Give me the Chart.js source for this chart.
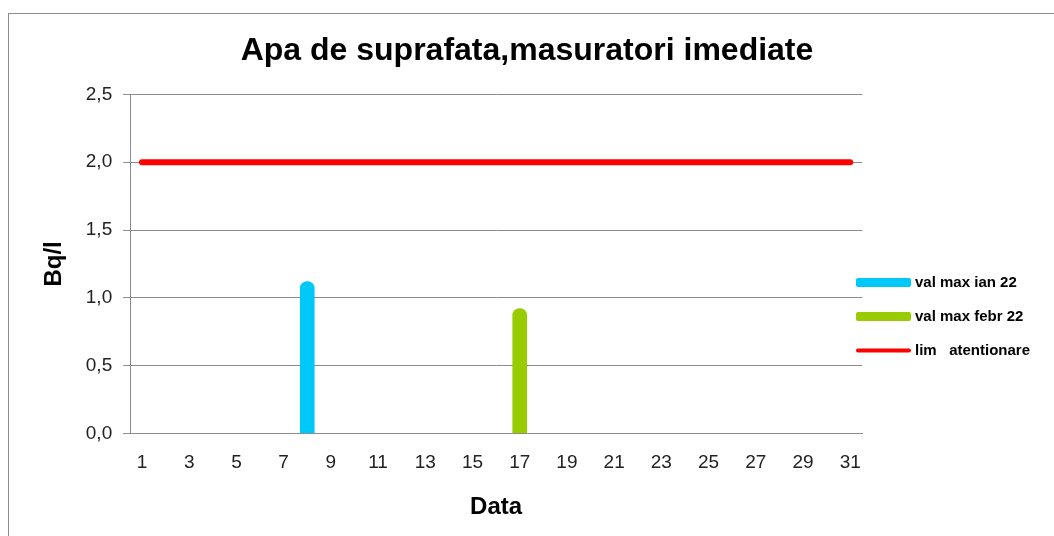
<!DOCTYPE html>
<html lang="ro">
<head>
    <meta charset="UTF-8">
    <title>Apa de suprafata</title>
    <script src="https://cdn.jsdelivr.net/npm/chart.js"></script>
    <style>
        body {
            margin: 0;
            padding: 0;
            background: #ffffff;
            overflow: hidden;
        }
        .frame {
            position: absolute;
            left: 8px;
            top: 13px;
            width: 1200px;
            height: 700px;
            border: 1px solid #8c8c8c;
        }
        #chart {
            position: absolute;
            left: 0;
            top: 0;
        }
    </style>
</head>
<body>
    <div class="frame"></div>
    <canvas id="chart" width="1054" height="536"></canvas>

    <script>
        // days of the month
        const days = ['1','2','3','4','5','6','7','8','9','10','11','12','13','14','15','16',
                      '17','18','19','20','21','22','23','24','25','26','27','28','29','30','31'];

        // measured values (only one day per month has a value)
        const valIan = [null,null,null,null,null,null,null,1.12,null,null,null,null,null,null,null,null,
                        null,null,null,null,null,null,null,null,null,null,null,null,null,null,null];
        const valFebr = [null,null,null,null,null,null,null,null,null,null,null,null,null,null,null,null,
                         0.92,null,null,null,null,null,null,null,null,null,null,null,null,null,null];
        const limAtentionare = [2,2,2,2,2,2,2,2,2,2,2,2,2,2,2,2,2,2,2,2,2,2,2,2,2,2,2,2,2,2,2];

        const seriesNames = ['val max ian 22', 'val max febr 22', 'lim   atentionare'];
        const yTicks = [0, 0.5, 1, 1.5, 2, 2.5];

        const FONT = '"Liberation Sans", Arial, sans-serif';

        // legend on the right, drawn on the canvas (Excel style: marker slightly overlapping plot edge)
        const sideLegend = {
            id: 'sideLegend',
            afterDraw(chart) {
                const c = chart.ctx;
                const x0 = chart.chartArea.right - 6;
                const markerH = [9, 9, 4];
                c.save();
                c.font = 'bold 15px ' + FONT;
                c.textBaseline = 'middle';
                chart.data.datasets.forEach((ds, i) => {
                    const y = chart.chartArea.top + 188 + i * 34;
                    const h = markerH[i];
                    c.fillStyle = ds.borderColor;
                    c.beginPath();
                    c.roundRect(x0, y - h / 2, 55, h, 2);
                    c.fill();
                    c.fillStyle = '#000000';
                    c.fillText(ds.label, x0 + 59, y);
                });
                c.restore();
            }
        };

        const ctx = document.getElementById('chart').getContext('2d');
        new Chart(ctx, {
            data: {
                labels: days,
                datasets: [
                    {
                        type: 'bar',
                        label: seriesNames[0],
                        data: valIan,
                        backgroundColor: '#00c8f8',
                        borderColor: '#00c8f8',
                        barThickness: 14,
                        borderRadius: { topLeft: 7, topRight: 7 },
                        borderSkipped: 'bottom',
                        grouped: false
                    },
                    {
                        type: 'bar',
                        label: seriesNames[1],
                        data: valFebr,
                        backgroundColor: '#99cc00',
                        borderColor: '#99cc00',
                        barThickness: 14,
                        borderRadius: { topLeft: 7, topRight: 7 },
                        borderSkipped: 'bottom',
                        grouped: false
                    },
                    {
                        type: 'line',
                        label: seriesNames[2],
                        data: limAtentionare,
                        borderColor: '#ff0000',
                        backgroundColor: '#ff0000',
                        borderWidth: 6,
                        borderCapStyle: 'round',
                        pointRadius: 0,
                        fill: false
                    }
                ]
            },
            plugins: [sideLegend],
            options: {
                responsive: false,
                animation: false,
                layout: { padding: 0 },
                plugins: {
                    title: {
                        display: true,
                        text: 'Apa de suprafata,masuratori imediate',
                        color: '#000000',
                        font: { family: FONT, size: 32, weight: 'bold' },
                        padding: { top: 32, bottom: 24 }
                    },
                    legend: { display: false },
                    tooltip: { enabled: false }
                },
                scales: {
                    x: {
                        offset: true,
                        grid: { display: true, drawOnChartArea: false, drawTicks: false },
                        border: { display: true, color: '#8c8c8c', width: 1 },
                        ticks: {
                            autoSkip: false,
                            maxRotation: 0,
                            padding: 18,
                            color: '#222222',
                            font: { family: FONT, size: 19 },
                            callback: function (value, index) {
                                return index % 2 === 0 ? days[index] : '';
                            }
                        },
                        title: {
                            display: true,
                            text: 'Data',
                            color: '#000000',
                            font: { family: FONT, size: 24, weight: 'bold' },
                            padding: { top: 1, bottom: 14 }
                        }
                    },
                    y: {
                        min: 0,
                        max: 2.5,
                        afterBuildTicks: (axis) => {
                            axis.ticks = yTicks.map(v => ({ value: v }));
                        },
                        grid: { color: '#8c8c8c', tickLength: 7, drawTicks: true },
                        border: { display: true, color: '#8c8c8c', width: 1 },
                        ticks: {
                            padding: 11,
                            color: '#222222',
                            font: { family: FONT, size: 19 },
                            callback: (value) => value.toFixed(1).replace('.', ',')
                        },
                        title: {
                            display: true,
                            text: 'Bq/l',
                            color: '#000000',
                            font: { family: FONT, size: 24, weight: 'bold' },
                            padding: { top: 40, bottom: 6 }
                        }
                    },
                    // empty axis on the right that reserves room for the legend
                    legendSpace: {
                        type: 'linear',
                        position: 'right',
                        display: true,
                        grid: { display: false, drawOnChartArea: false },
                        border: { display: false },
                        ticks: { display: false },
                        afterFit: (scale) => { scale.width = 192; }
                    }
                }
            }
        });
    </script>
</body>
</html>
